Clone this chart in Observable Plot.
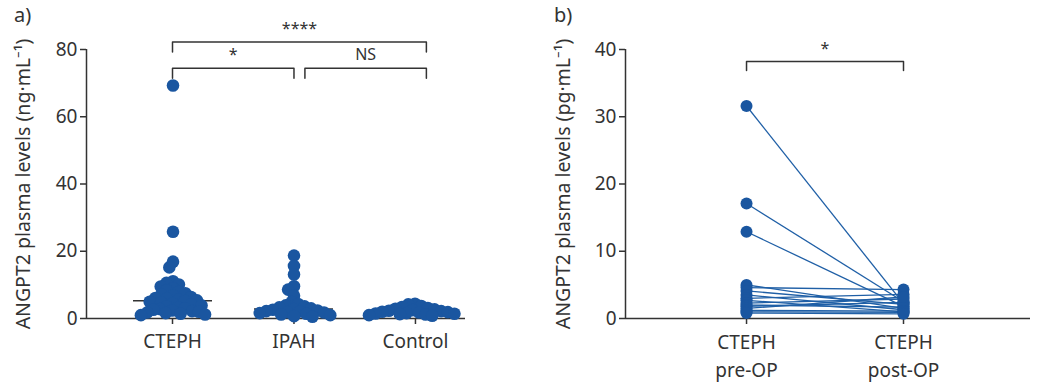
<!DOCTYPE html>
<html><head><meta charset="utf-8">
<script src="https://cdn.jsdelivr.net/npm/d3@7"></script>
<script src="https://cdn.jsdelivr.net/npm/@observablehq/plot@0.6"></script>
<style>
html,body{margin:0;padding:0;background:#fff;}
#root{position:relative;width:1040px;height:382px;font-family:"Noto Sans",sans-serif;color:#333;}
.panel{position:absolute;top:0;width:520px;height:382px;}
.panel svg{position:absolute;left:0;top:0;}
.tag{position:absolute;top:1px;font-size:20px;color:#333;}
</style></head><body>
<div id="root">
  <div class="panel" id="pa"></div>
  <div class="panel" id="pb" style="left:520px"></div>
  <div class="tag" style="left:14px">a)</div>
  <div class="tag" style="left:554px">b)</div>
</div>
<script>
// ---- data ----
const groups = ["CTEPH", "IPAH", "Control"];
const cteph = [69.3, 25.8, 16.9, 15.2, 11.1, 10.6, 10.1, 9.5, 9.0, 8.4, 7.9, 7.5, 7.1, 6.8, 6.4, 6.1, 5.9, 5.6, 5.4, 5.2,
               5.0, 4.8, 4.5, 4.2, 3.9, 3.6, 3.3, 3.0, 2.8, 2.6, 2.4, 2.2, 2.0, 1.8, 1.6, 1.4, 1.2, 1.0];
const ipah = [18.7, 15.6, 13.1, 9.6, 8.6, 6.8, 4.9, 4.3, 3.9, 3.6, 3.3, 3.0, 2.8, 2.6, 2.4, 2.2, 2.1, 1.9, 1.8, 1.6,
              1.4, 1.2, 1.0, 0.7, 0.5];
const control = [4.4, 4.2, 3.7, 3.4, 3.1, 2.9, 2.7, 2.5, 2.3, 2.2, 2.0, 1.9, 1.8, 1.6, 1.5, 1.4, 1.3, 1.2, 1.0, 0.8];
const preOP  = [31.6, 17.1, 12.9, 5.0, 4.6, 4.1, 3.5, 3.0, 2.7, 2.3, 2.0, 1.8, 1.5, 1.2, 1.0, 0.8];
const postOP = [2.2, 2.5, 1.8, 1.5, 4.3, 2.1, 1.3, 3.6, 1.0, 2.9, 1.7, 2.4, 3.2, 1.1, 0.9, 0.7];
const phaseLabels = ["CTEPH\npre-OP", "CTEPH\npost-OP"];
const yTicksA = [0, 20, 40, 60, 80];
const yTicksB = [0, 10, 20, 30, 40];
const yLabelA = "ANGPT2 plasma levels (ng·mL⁻¹)";
const yLabelB = "ANGPT2 plasma levels (pg·mL⁻¹)";
const bracketsA = [
  {from: 1, to: 3.09, y: 82.2, label: "****"},
  {from: 1, to: 2, y: 74.4, label: "*"},
  {from: 2.09, to: 3.09, y: 74.4, label: "NS"}
];
const bracketsB = [{from: 0, to: 1, y: 38.2, label: "*"}];

// ---- layout / style ----
const W = 520, H = 382;
const INK = "#333333", BLUE = "#1a56a0";
const baseStyle = {fontFamily: "'Noto Sans', sans-serif", fontSize: "19px", color: INK, background: "transparent", overflow: "visible"};
const xDomA = [0.292, 3.412];
const xDomB = [-0.771, 1.809];

const valuesA = [cteph, ipah, control];
const dotsA = groups.flatMap((g, i) => valuesA[i].map(v => ({group: g, value: v})));
const medA = groups.map((g, i) => ({group: g, value: d3.median(valuesA[i])}));
const bracketPath = (drop) => (b, k) => [[b.from, b.y - drop], [b.from, b.y], [b.to, b.y], [b.to, b.y - drop]]
  .map(([x, y]) => ({x, y, k}));
const isStar = d => /^\*+$/.test(d.label);

// ---- panel a: axes and brackets ----
const plotA = Plot.plot({
  width: W, height: H, marginTop: 49, marginBottom: 64, marginLeft: 86, marginRight: 55,
  style: baseStyle,
  x: {domain: xDomA, axis: null},
  y: {domain: [0, 80], axis: null},
  marks: [
    Plot.ruleY([0], {stroke: INK, strokeWidth: 1.5}),
    Plot.ruleX([xDomA[0]], {stroke: INK, strokeWidth: 1.5}),
    Plot.axisY({ticks: yTicksA, tickSize: 6, tickPadding: 3, label: null, strokeWidth: 1.5}),
    Plot.axisX({ticks: [1, 2, 3], tickFormat: i => groups[i - 1], tickSize: 6, tickPadding: 10, label: null, strokeWidth: 1.5}),
    Plot.text([yLabelA], {frameAnchor: "left", textAnchor: "middle", rotate: -90, dx: -63, text: d => d, fill: INK, fontSize: 19.5}),
    Plot.line(bracketsA.flatMap(bracketPath(2.95)), {x: "x", y: "y", z: "k", stroke: INK, strokeWidth: 1.5}),
    Plot.text(bracketsA.filter(isStar), {x: d => (d.from + d.to) / 2, y: "y", text: "label", dy: -13, fill: INK, fontSize: 16}),
    Plot.text(bracketsA.filter(d => !isStar(d)), {x: d => (d.from + d.to) / 2, y: "y", text: "label", dy: -13, fill: INK, fontSize: 16})
  ]
});
document.getElementById("pa").appendChild(plotA);

// ---- panel a: medians and beeswarm dots (faceted overlay) ----
const overA = Plot.plot({
  width: W, height: H, marginTop: 49, marginBottom: 64, marginLeft: 111.25, marginRight: 44.25,
  style: baseStyle,
  fx: {domain: groups, padding: 0, axis: null},
  y: {domain: [0, 80], axis: null},
  marks: [
    Plot.tickY(medA, {fx: "group", y: "value", insetLeft: 21, insetRight: 21, stroke: INK, strokeWidth: 1.5}),
    Plot.dot(dotsA, Plot.dodgeX({anchor: "middle", r: 3.4, padding: 0},
      {fx: "group", y: "value", r: 6.3, fill: BLUE, stroke: "none"}))
  ]
});
document.getElementById("pa").appendChild(overA);

// ---- panel b ----
const pairs = preOP.map((v, i) => ({pre: v, post: postOP[i]}));
const ptsB = pairs.flatMap(p => [{phase: 0, value: p.pre}, {phase: 1, value: p.post}]);
const plotB = Plot.plot({
  width: W, height: H, marginTop: 49, marginBottom: 64, marginLeft: 105, marginRight: 10,
  style: baseStyle,
  x: {domain: xDomB, axis: null},
  y: {domain: [0, 40], axis: null},
  marks: [
    Plot.ruleY([0], {stroke: INK, strokeWidth: 1.5}),
    Plot.ruleX([xDomB[0]], {stroke: INK, strokeWidth: 1.5}),
    Plot.axisY({ticks: yTicksB, tickSize: 6, tickPadding: 3, label: null, strokeWidth: 1.5}),
    Plot.axisX({ticks: [0, 1], tickFormat: i => phaseLabels[i], tickSize: 6, tickPadding: 5, lineHeight: 1.45, label: null, strokeWidth: 1.5}),
    Plot.text([yLabelB], {frameAnchor: "left", textAnchor: "middle", rotate: -90, dx: -62, text: d => d, fill: INK, fontSize: 19.5}),
    Plot.line(bracketsB.flatMap(bracketPath(1.34)), {x: "x", y: "y", z: "k", stroke: INK, strokeWidth: 1.5}),
    Plot.text(bracketsB, {x: d => (d.from + d.to) / 2, y: "y", text: "label", dy: -13, fill: INK, fontSize: 16}),
    Plot.link(pairs, {x1: () => 0, x2: () => 1, y1: "pre", y2: "post", stroke: "#1f5fa6", strokeWidth: 1.3}),
    Plot.dot(ptsB, {x: "phase", y: "value", r: 6, fill: BLUE, stroke: "none"})
  ]
});
document.getElementById("pb").appendChild(plotB);
</script>
</body></html>
